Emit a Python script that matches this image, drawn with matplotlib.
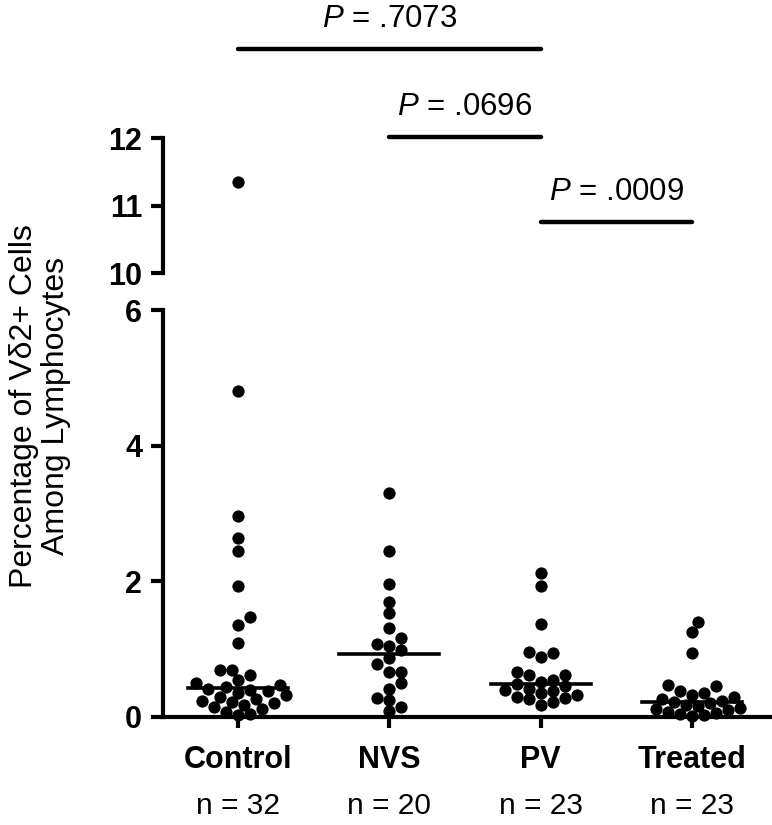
import numpy as np
import matplotlib
matplotlib.use("Agg")
import matplotlib.pyplot as plt

plt.rcParams['font.family'] = ['Liberation Sans', 'DejaVu Sans']
plt.rcParams['mathtext.fontset'] = 'custom'
plt.rcParams['mathtext.rm'] = 'Liberation Sans'
plt.rcParams['mathtext.it'] = 'Liberation Sans:italic'

# data (% Vd2+ cells among lymphocytes)
groups = ['Control', 'NVS', 'PV', 'Treated']
n_labels = ['n = 32', 'n = 20', 'n = 23', 'n = 23']

control = [11.35, 4.80, 2.96, 2.64, 2.45, 1.93, 1.48, 1.36, 1.09, 0.69, 0.69,
           0.62, 0.55, 0.50, 0.47, 0.44, 0.42, 0.40, 0.38, 0.35, 0.32, 0.30,
           0.27, 0.24, 0.22, 0.20, 0.18, 0.15, 0.12, 0.08, 0.05, 0.03]
nvs = [3.30, 2.45, 1.96, 1.70, 1.53, 1.31, 1.17, 1.08, 1.05, 0.99,
       0.87, 0.78, 0.66, 0.66, 0.50, 0.41, 0.28, 0.25, 0.15, 0.09]
pv = [2.12, 1.93, 1.37, 0.96, 0.94, 0.89, 0.66, 0.62, 0.62, 0.55, 0.52,
      0.49, 0.45, 0.42, 0.40, 0.38, 0.36, 0.33, 0.30, 0.28, 0.26, 0.22, 0.18]
treated = [1.40, 1.25, 0.94, 0.47, 0.45, 0.38, 0.35, 0.33, 0.30, 0.27, 0.24,
           0.22, 0.20, 0.18, 0.16, 0.14, 0.12, 0.10, 0.08, 0.06, 0.05, 0.03, 0.02]
all_data = [control, nvs, pv, treated]

# comparisons: (group i, group j, p text, bar height)
comparisons = [(0, 2, '.7073', 13.32), (1, 2, '.0696', 12.01), (2, 3, '.0009', 10.76)]

# pixel scales used for the swarm spread
px_x = 151.3
px_y = 67.8
diam = 12.0


def swarm(vals):
    vals = np.asarray(vals, float)
    order = np.argsort(vals)
    placed = []
    offs = np.zeros(len(vals))
    step = 0.5 * diam
    for i in order:
        y = vals[i] * px_y
        k = 0
        while True:
            cand = ((k + 1) // 2) * step * (1 if k % 2 == 1 else -1) if k > 0 else 0.0
            ok = all((cand - px) ** 2 + (y - py) ** 2 >= (0.85 * diam) ** 2 for px, py in placed)
            if ok:
                break
            k += 1
        placed.append((cand, y))
        offs[i] = cand / px_x
    return offs


fig = plt.figure(figsize=(7.72, 8.25), dpi=100)
W, H = 772, 825
x_left, x_right = 163, 770
lo_bot, lo_top = 717, 310
up_bot, up_top = 273, 10
xlim = (-(238 - x_left) / px_x, (x_right - 238) / px_x)

ax = fig.add_axes([x_left / W, 1 - lo_bot / H, (x_right - x_left) / W, (lo_bot - lo_top) / H])
ax_up = fig.add_axes([x_left / W, 1 - up_bot / H, (x_right - x_left) / W, (up_bot - up_top) / H])
ax_up.patch.set_alpha(0)

for i, vals in enumerate(all_data):
    vals = np.array(vals)
    offs = swarm(vals)
    low = vals <= 6
    ax.scatter(i + offs[low], vals[low], s=78, color='black', lw=0, clip_on=False, zorder=3)
    ax_up.scatter(i + offs[~low], vals[~low], s=78, color='black', lw=0, clip_on=False, zorder=3)
    med = np.median(vals)
    ax.plot([i - 0.33, i + 0.33], [med, med], color='black', lw=2.6, zorder=4)

ax.set_xlim(*xlim)
ax.set_ylim(0, 6)
ax.set_yticks([0, 2, 4, 6])
ax.set_xticks(range(4))
ax.set_xticklabels(groups, fontweight='bold', fontsize=22)
for t in ax.get_yticklabels():
    t.set_fontweight('bold')
    t.set_fontsize(22)
ax.tick_params(axis='y', length=9, width=3, pad=6)
ax.tick_params(axis='x', length=8, width=3, pad=12)
for s in ['top', 'right']:
    ax.spines[s].set_visible(False)
for s in ['left', 'bottom']:
    ax.spines[s].set_linewidth(3)

for i, lab in enumerate(n_labels):
    ax.text(i, -(806 - lo_bot) / (lo_bot - lo_top), lab, transform=ax.get_xaxis_transform(),
            ha='center', va='center', fontsize=21.5)

ax_up.set_xlim(*xlim)
ax_up.set_ylim(10, 10 + (up_bot - up_top) / 67.5)
ax_up.set_yticks([10, 11, 12])
ax_up.set_xticks([])
for t in ax_up.get_yticklabels():
    t.set_fontweight('bold')
    t.set_fontsize(22)
ax_up.tick_params(axis='y', length=9, width=3, pad=6)
for s in ['top', 'right', 'bottom']:
    ax_up.spines[s].set_visible(False)
ax_up.spines['left'].set_linewidth(3)
ax_up.spines['left'].set_bounds(10, 12)

for a, b, ptxt, h in comparisons:
    ax_up.plot([a, b], [h, h], color='black', lw=3.2, solid_capstyle='round', clip_on=False)
    ax_up.text((a + b) / 2, h + 0.22, r'$\mathit{P}$ = ' + ptxt, ha='center', va='bottom',
               fontsize=22.5)

fig.text(40 / W, 1 - 406 / H, 'Percentage of V\u03b42+ Cells\nAmong Lymphocytes',
         rotation=90, ha='center', va='center', fontsize=23, multialignment='center',
         linespacing=1.05)

fig.savefig('out.png', dpi=100)
